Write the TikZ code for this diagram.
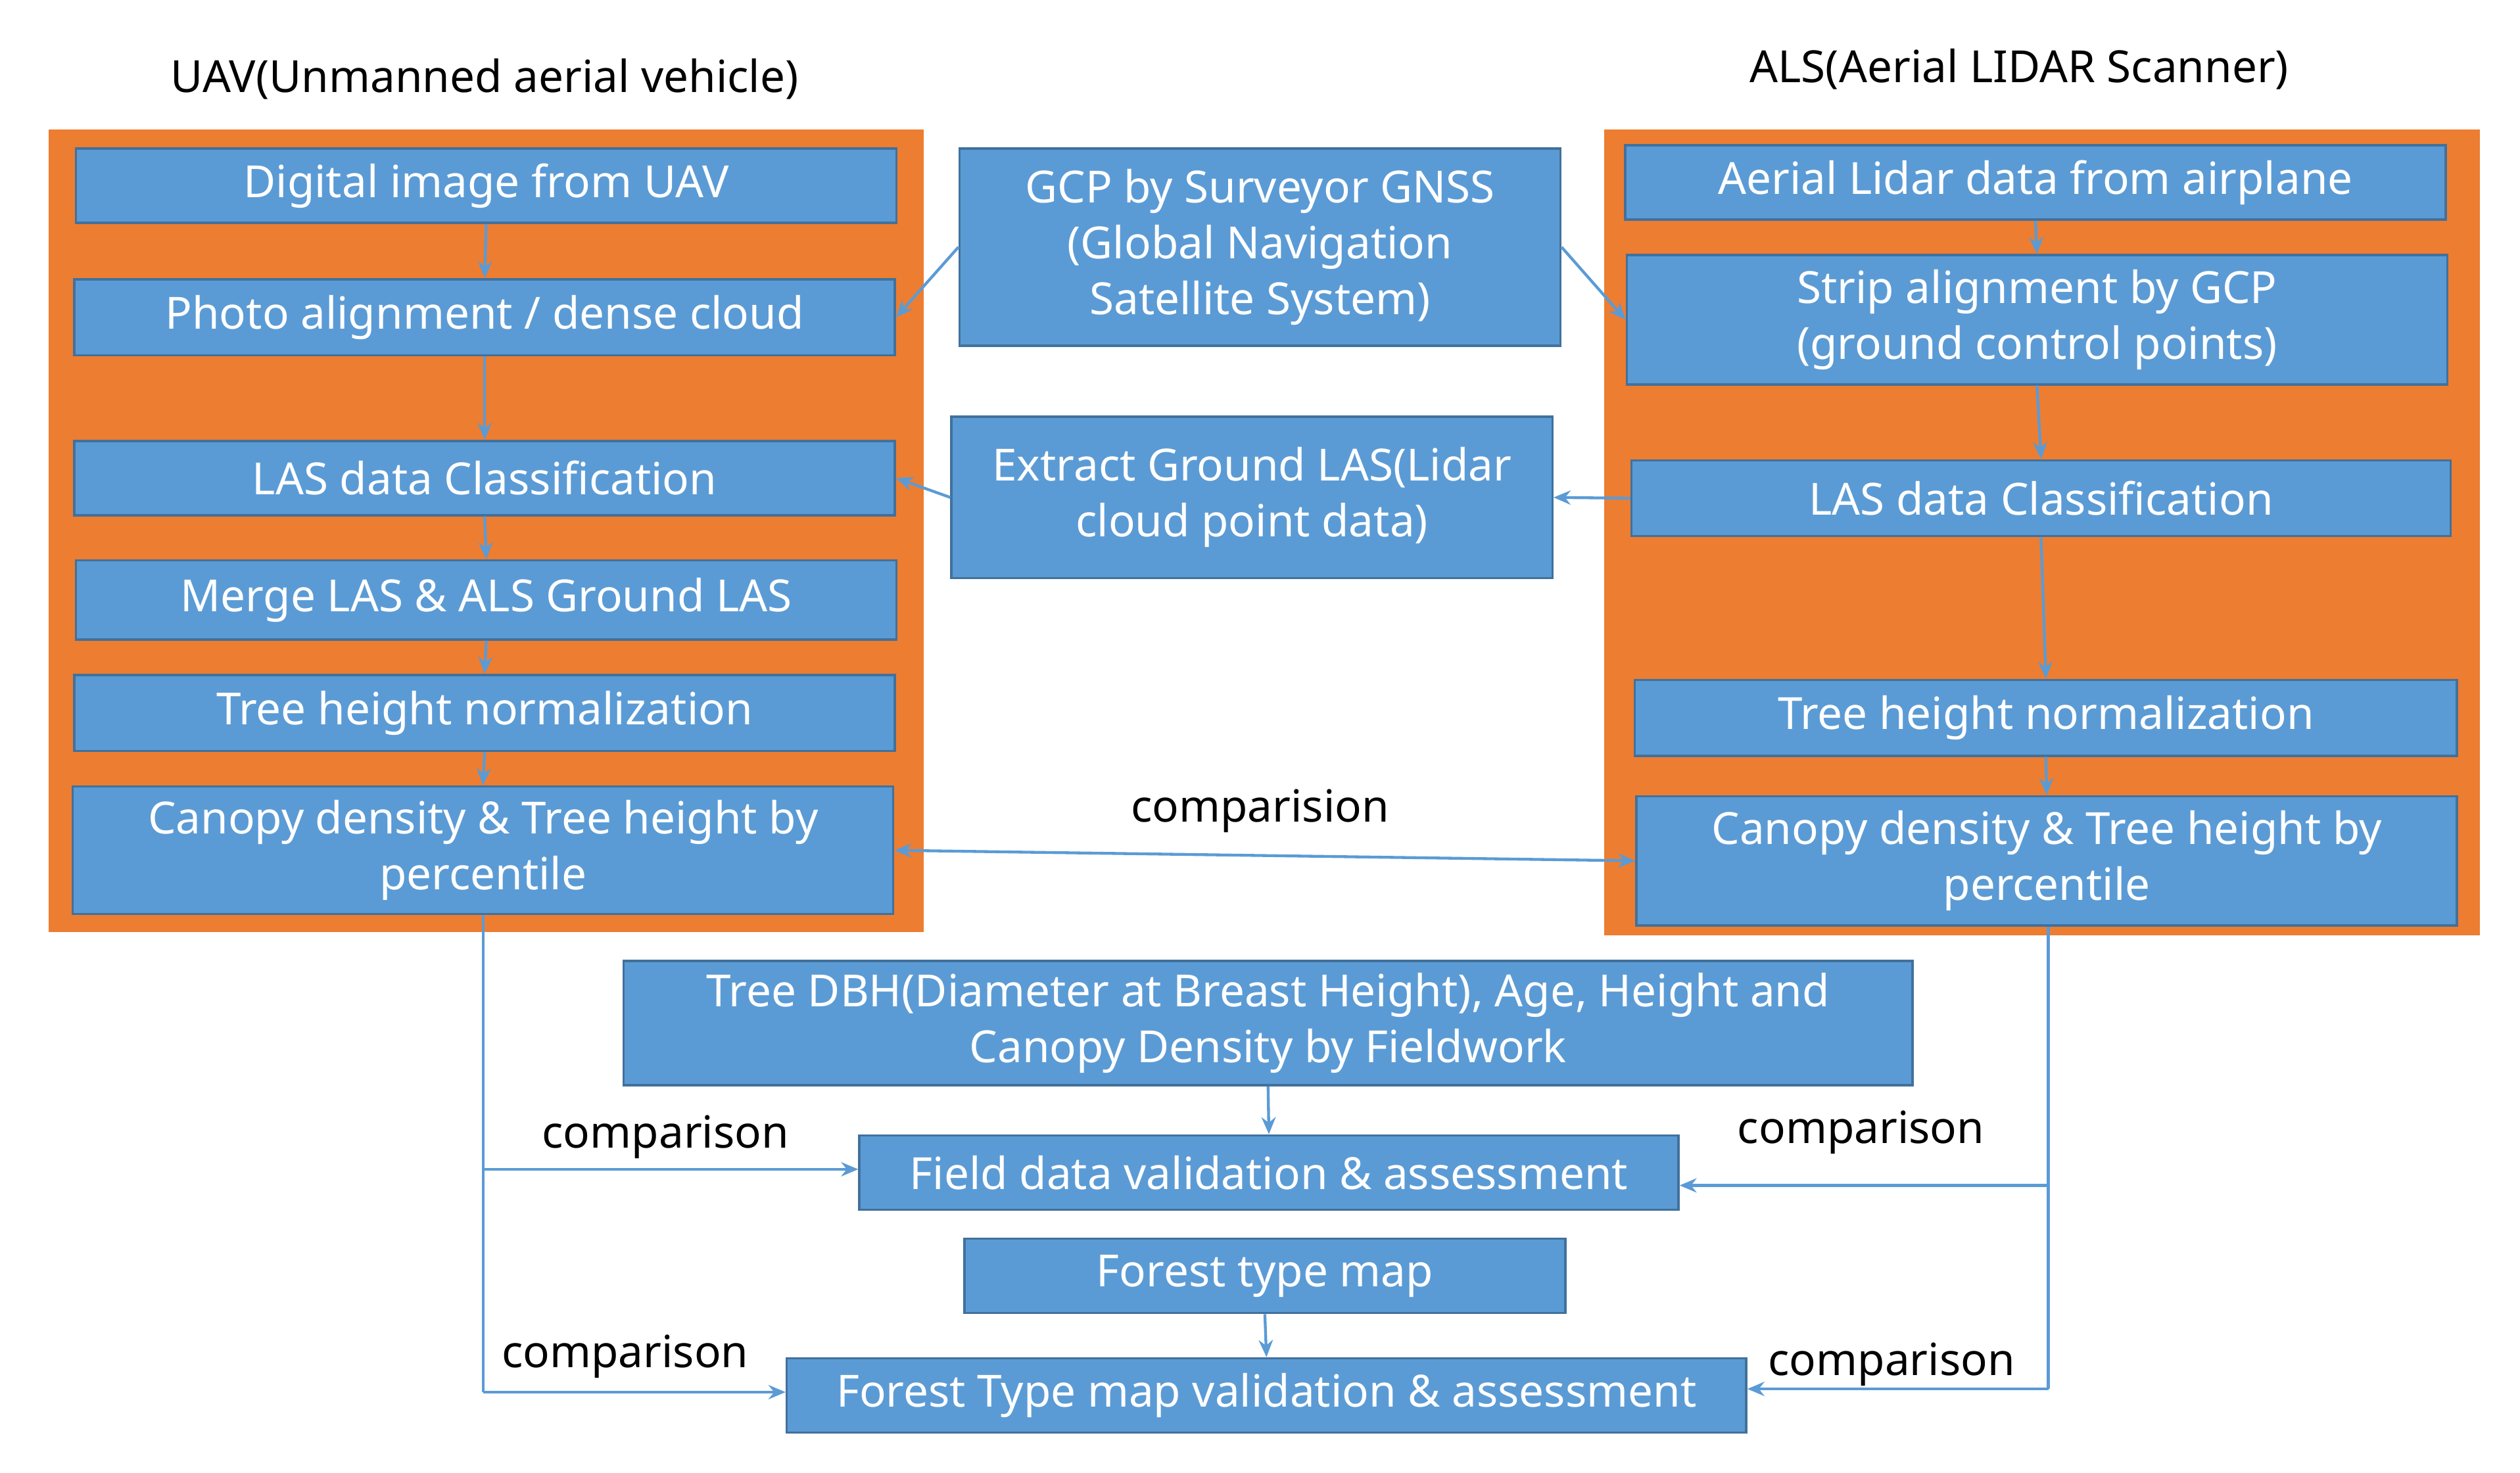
\documentclass[tikz,border=0pt]{standalone}
\usepackage{fontspec}
\setmainfont{Noto Sans}
\usetikzlibrary{arrows.meta}
\definecolor{org}{HTML}{ED7D31}
\definecolor{blu}{HTML}{5B9BD5}
\definecolor{bdr}{HTML}{41719C}
\begin{document}
\begin{tikzpicture}[x=0.01cm,y=-0.01cm,
 box/.style={draw=bdr,line width=0.4pt,fill=blu,text=white,align=center,inner sep=0pt,font=\fontsize{7.8}{9.8}\selectfont},
 lab/.style={font=\fontsize{7.8}{10}\selectfont,text=black},
 arr/.style={draw=blu,line width=0.5pt,-{Stealth[length=3pt,width=2.5pt]}},
 ln/.style={draw=blu,line width=0.5pt}]
\useasboundingbox (0,0) rectangle (1560,912);
\fill[org] (30,80) rectangle (572,577);
\fill[org] (993,80) rectangle (1535,579);
\newcommand\bx[6]{\node[box,minimum width={(#4-#2)*0.01cm},minimum height={(#5-#3)*0.01cm}] (#1) at ({(#2+#4)/2},{(#3+#5)/2+1}) {#6};}
\bx{L1}{47}{91}{555}{137}{Digital image from UAV}
\bx{L2}{46}{172}{554}{219}{Photo alignment / dense cloud}
\bx{L3}{46}{272}{554}{318}{LAS data Classification}
\bx{L4}{47}{346}{555}{395}{Merge LAS \& ALS Ground LAS}
\bx{L5}{46}{417}{554}{464}{Tree height normalization}
\bx{L6}{45}{486}{553}{565}{Canopy density \& Tree height by\\percentile}
\bx{GCP}{594}{91}{966}{213}{GCP by Surveyor GNSS\\(Global Navigation\\Satellite System)}
\bx{EXT}{589}{257}{961}{357}{Extract Ground LAS(Lidar\\cloud point data)}
\bx{R1}{1006}{89}{1514}{135}{Aerial Lidar data from airplane}
\bx{R2}{1007}{157}{1515}{237}{Strip alignment by GCP\\(ground control points)}
\bx{R3}{1010}{284}{1517}{331}{LAS data Classification}
\bx{R4}{1012}{420}{1521}{467}{Tree height normalization}
\bx{R5}{1013}{492}{1521}{572}{Canopy density \& Tree height by\\percentile}
\bx{DBH}{386}{594}{1184}{671}{Tree DBH(Diameter at Breast Height), Age, Height and\\Canopy Density by Fieldwork}
\bx{FV}{532}{702}{1039}{748}{Field data validation \& assessment}
\bx{FTM}{597}{766}{969}{812}{Forest type map}
\bx{FTV}{487}{840}{1081}{886}{Forest Type map validation \& assessment}
\node[lab] (t1) at (300,49) {UAV(Unmanned aerial vehicle)};
\node[lab] (t2) at (1250,43) {ALS(Aerial LIDAR Scanner)};
\node[lab] (c0) at (780,502) {comparision};
\node[lab] (c1) at (412,704) {comparison};
\node[lab] (c2) at (1152,701) {comparison};
\node[lab] (c3) at (387,840) {comparison};
\node[lab] (c4) at (1171,845) {comparison};
\foreach \a/\b in {L1/L2,L2/L3,L3/L4,L4/L5,L5/L6} \draw[arr] (\a.south) -- (\b.north);
\draw[arr] (R1.south) -- (R2.north);
\draw[arr] (R2.south) -- (R3.north);
\draw[arr] (R3.south) -- (R4.north);
\draw[arr] (R4.south) -- (R5.north);
\draw[arr] (GCP.west) -- (L2.east);
\draw[arr] (GCP.east) -- (R2.west);
\draw[arr] (R3.west) -- (EXT.east);
\draw[arr] (EXT.west) -- (L3.east);
\draw[draw=blu,line width=0.5pt,{Stealth[length=3pt,width=2.5pt]}-{Stealth[length=3pt,width=2.5pt]}] (L6.east) -- (R5.west);
\draw[arr] (DBH.south) -- (FV.north);
\draw[arr] (FTM.south) -- (FTV.north);
\coordinate (la) at (299,724);
\coordinate (lb) at (299,862);
\coordinate (ra) at (1268,734);
\coordinate (rb) at (1268,860);
\draw[ln] (L6.south -| la) -- (lb);
\draw[arr] (la) -- (la -| FV.west);
\draw[arr] (lb) -- (lb -| FTV.west);
\draw[ln] (R5.south -| ra) -- (rb);
\draw[arr] (ra) -- (ra -| FV.east);
\draw[arr] (rb) -- (rb -| FTV.east);
\end{tikzpicture}
\end{document}
